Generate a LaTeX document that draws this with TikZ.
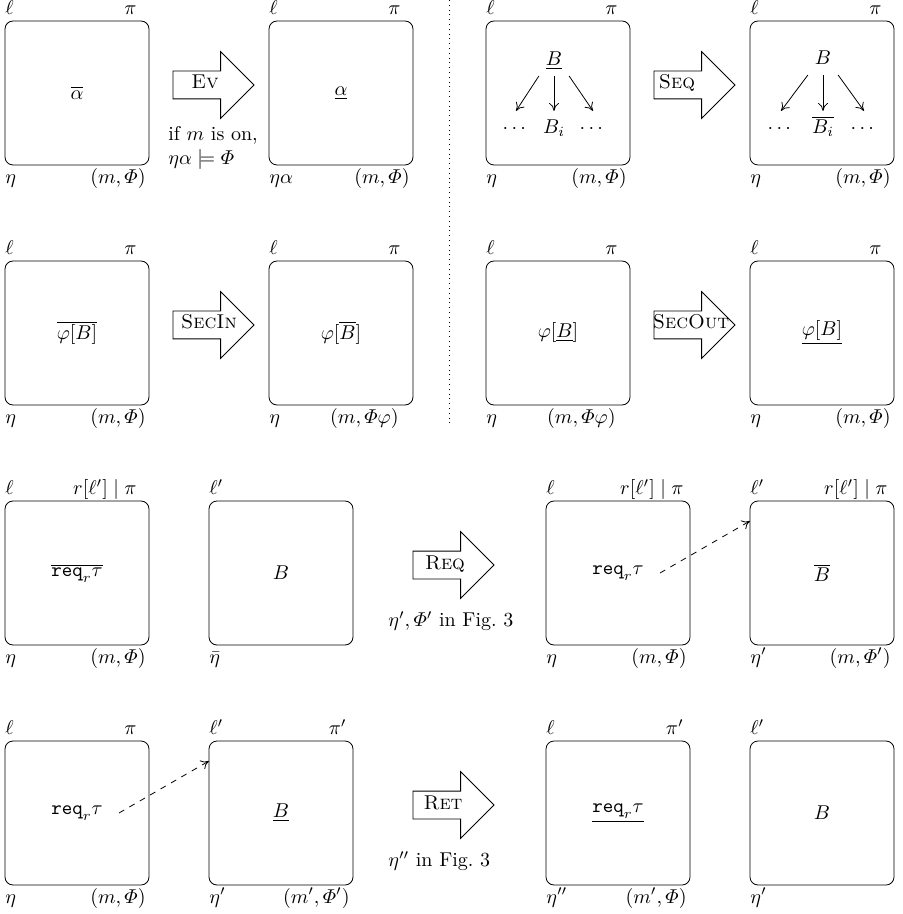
\documentclass[tikz,border=0pt]{standalone}
\usepackage{amsmath}
\usepackage{amssymb}
\usetikzlibrary{positioning,shapes.arrows,arrows.meta}

\begin{document}
\begin{tikzpicture}[
    box/.style={draw, rounded corners=4pt, minimum size=72pt, inner sep=0pt, outer sep=0pt},
    ltop/.style={anchor=base west, inner sep=0pt, yshift=3.25pt},
    rtop/.style={anchor=base east, inner sep=0pt, xshift=-6pt, yshift=3.25pt},
    rtopnear/.style={anchor=base east, inner sep=0pt, xshift=-3pt, yshift=3.25pt},
    lbot/.style={anchor=base west, inner sep=0pt, yshift=-9pt},
    rbot/.style={anchor=base east, inner sep=0pt, xshift=-1.5pt, yshift=-9pt},
    rbotfar/.style={anchor=base east, inner sep=0pt, xshift=-7pt, yshift=-9pt},
    corners/.style n args={4}{label={[ltop]above left:{#1}}, label={[rtop]above right:{#2}},
        label={[lbot]below left:{#3}}, label={[rbot]below right:{#4}}},
    rule/.style={draw, single arrow, single arrow head extend=9.75pt, minimum height=40.5pt,
        inner xsep=0pt, inner ysep=6.75pt, outer sep=0pt, anchor=tail},
    rulename/.style={anchor=base},
    root/.style={anchor=base, text depth=1.5pt},
    leaf/.style={anchor=base, text height=8pt},
    sub/.style={-{To[length=4pt, width=5pt]}},
    link/.style={-{To[length=4pt, width=5pt]}, dashed}
]
\useasboundingbox (-38.5pt,-410.5pt) rectangle (412.5pt,46.5pt);

% Ev and Seq
\node[box, corners={$\ell$}{$\pi$}{$\eta$}{$(m,\varPhi)$}] (evpre) at (0,0) {$\overline{\alpha}$};
\node[box, right=60pt of evpre, corners={$\ell$}{$\pi$}{$\eta\alpha$}{$(m,\varPhi)$}] (evpost) {$\underline{\alpha}$};
\node[box, right=36.5pt of evpost, corners={$\ell$}{$\pi$}{$\eta$}{$(m,\varPhi)$}] (seqpre) {};
\node[box, right=60pt of seqpre, corners={$\ell$}{$\pi$}{$\eta$}{$(m,\varPhi)$}] (seqpost) {};

\node[rule] (evarr) at ([xshift=12pt, yshift=4pt]evpre.east) {};
\node[rulename] (evname) at ([xshift=16pt, yshift=-2pt]evarr.tail) {\textsc{Ev}};
\node[anchor=north west, align=left, inner sep=0pt] (evcond) at ([xshift=-2.5pt, yshift=-20.5pt]evarr.tail)
    {if $m$ is on,\\$\eta\alpha\models\varPhi$};
\node[rule] (seqarr) at ([xshift=12pt, yshift=4pt]seqpre.east) {};
\node[rulename] (seqname) at ([xshift=11.5pt, yshift=-2pt]seqarr.tail) {\textsc{Seq}};

\node[root] (seqroot) at ([xshift=-2pt, yshift=13.5pt]seqpre.center) {$\underline{B}$};
\node[leaf] (seqleft) at ([xshift=-21pt, yshift=-20.5pt]seqpre.center) {$\cdots$};
\node[leaf] (seqmid) at ([xshift=-2pt, yshift=-20.5pt]seqpre.center) {$B_i$};
\node[leaf] (seqright) at ([xshift=17.5pt, yshift=-20.5pt]seqpre.center) {$\cdots$};
\draw[sub] (seqroot.south west) -- (seqleft.north);
\draw[sub] (seqroot.south) -- (seqmid.north);
\draw[sub] (seqroot.south east) -- (seqright.north);

\node[root] (nextroot) at ([xshift=0.5pt, yshift=14pt]seqpost.center) {$B$};
\node[leaf] (nextleft) at ([xshift=-20.5pt, yshift=-20.5pt]seqpost.center) {$\cdots$};
\node[leaf] (nextmid) at ([xshift=0.5pt, yshift=-20.5pt]seqpost.center) {$\overline{B_i}$};
\node[leaf] (nextright) at ([xshift=21pt, yshift=-20.5pt]seqpost.center) {$\cdots$};
\draw[sub] (nextroot.south west) -- (nextleft.north);
\draw[sub] (nextroot.south) -- (nextmid.north);
\draw[sub] (nextroot.south east) -- (nextright.north);

% SecIn and SecOut
\node[box, below=48pt of evpre, corners={$\ell$}{$\pi$}{$\eta$}{$(m,\varPhi)$}] (inpre) {$\overline{\varphi[B]}$};
\node[box, below=48pt of evpost, label={[ltop]above left:$\ell$}, label={[rtop]above right:$\pi$},
    label={[lbot]below left:$\eta$}, label={[rbotfar]below right:$(m,\varPhi\varphi)$}] (inpost) {$\varphi[\overline{B}]$};
\node[box, below=48pt of seqpre, label={[ltop]above left:$\ell$}, label={[rtop]above right:$\pi$},
    label={[lbot]below left:$\eta$}, label={[rbotfar]below right:$(m,\varPhi\varphi)$}] (outpre) {$\varphi[\underline{B}]$};
\node[box, below=48pt of seqpost, corners={$\ell$}{$\pi$}{$\eta$}{$(m,\varPhi)$}] (outpost) {$\underline{\varphi[B]}$};

\node[rule] (inarr) at ([xshift=12pt, yshift=4pt]inpre.east) {};
\node[rulename] (inname) at ([xshift=18pt, yshift=-2pt]inarr.tail) {\textsc{SecIn}};
\node[rule] (outarr) at ([xshift=12pt, yshift=4pt]outpre.east) {};
\node[rulename] (outname) at ([xshift=18.5pt, yshift=-2pt]outarr.tail) {\textsc{SecOut}};

\draw[dotted] (186.25pt,46.5pt) -- (186.25pt,-167pt);

% Req
\node[box, below=48pt of inpre, corners={$\ell$}{$r[\ell']\mid\pi$}{$\eta$}{$(m,\varPhi)$}] (reqa) {$\overline{\texttt{req}_r\tau}$};
\node[box, right=30pt of reqa, label={[ltop]above left:$\ell'$}, label={[lbot]below left:$\bar{\eta}$}] (reqb) {$B$};
\node[box, right=96.5pt of reqb, label={[ltop]above left:$\ell$}, label={[rtopnear]above right:{$r[\ell']\mid\pi$}},
    label={[lbot]below left:$\eta$}, label={[rbot]below right:$(m,\varPhi)$}] (reqc) {$\texttt{req}_r\tau$};
\node[box, right=30pt of reqc, label={[ltop]above left:$\ell'$}, label={[rtopnear]above right:{$r[\ell']\mid\pi$}},
    label={[lbot]below left:$\eta'$}, label={[rbot]below right:$(m,\varPhi')$}] (reqd) {$\overline{B}$};

\node[rule] (reqarr) at ([xshift=30pt, yshift=4pt]reqb.east) {};
\node[rulename] (reqname) at ([xshift=16pt, yshift=-2pt]reqarr.tail) {\textsc{Req}};
\node[anchor=base west, inner sep=0pt] (reqnote) at ([xshift=-12.5pt, yshift=-30.75pt]reqarr.tail) {$\eta',\varPhi'$ in Fig.~3};
\draw[link] ([xshift=21pt]reqc.center) -- ([yshift=-10pt]reqd.north west);

% Ret
\node[box, below=48pt of reqa, corners={$\ell$}{$\pi$}{$\eta$}{$(m,\varPhi)$}] (reta) {$\texttt{req}_r\tau$};
\node[box, right=30pt of reta, label={[ltop]above left:$\ell'$}, label={[rtopnear]above right:$\pi'$},
    label={[lbot]below left:$\eta'$}, label={[rbot]below right:$(m',\varPhi')$}] (retb) {$\underline{B}$};
\node[box, right=96.5pt of retb, label={[ltop]above left:$\ell$}, label={[rtopnear]above right:$\pi'$},
    label={[lbot]below left:$\eta''$}, label={[rbot]below right:$(m',\varPhi)$}] (retc) {$\underline{\texttt{req}_r\tau}$};
\node[box, right=30pt of retc, label={[ltop]above left:$\ell'$}, label={[lbot]below left:$\eta'$}] (retd) {$B$};

\node[rule] (retarr) at ([xshift=30pt, yshift=4pt]retb.east) {};
\node[rulename] (retname) at ([xshift=15pt, yshift=-2pt]retarr.tail) {\textsc{Ret}};
\node[anchor=base west, inner sep=0pt] (retnote) at ([xshift=-12.5pt, yshift=-30.75pt]retarr.tail) {$\eta''$ in Fig.~3};
\draw[link] ([xshift=21pt]reta.center) -- ([yshift=-10pt]retb.north west);
\end{tikzpicture}
\end{document}
